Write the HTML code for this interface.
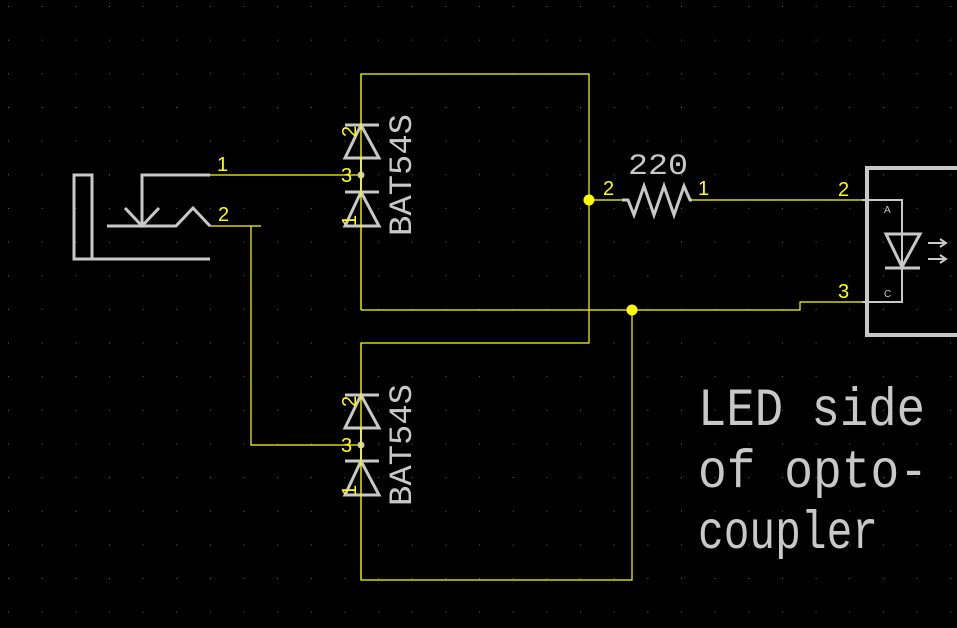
<!DOCTYPE html>
<html><head><meta charset="utf-8"><style>
html,body{margin:0;padding:0;background:#000;}
svg{display:block;}
</style></head><body>
<svg width="957" height="628" viewBox="0 0 957 628" xmlns="http://www.w3.org/2000/svg">
<defs>
<pattern id="g" x="8" y="6" width="33.65" height="33.65" patternUnits="userSpaceOnUse">
<rect x="0" y="0" width="1" height="1" fill="#666"/>
</pattern>
</defs>
<rect width="957" height="628" fill="#000"/>
<rect width="957" height="628" fill="url(#g)"/>

<g stroke="#ffff00" stroke-width="1.2" fill="none">
<polyline points="210,175 361,175"/>
<polyline points="210,226 261,226"/>
<polyline points="251,226 251,445 361,445"/>
<polyline points="361,310 361,74 589,74 589,343 361,343 361,580 632,580 632,310"/>
<polyline points="361,310 800,310 800,302 862,302"/>
<polyline points="589,200 622,200"/>
<polyline points="692,200 862,200"/>
</g>
<circle cx="589" cy="200" r="5.5" fill="#ffff00"/>
<circle cx="632" cy="310" r="5.5" fill="#ffff00"/>

<g stroke="#c8c8c8" stroke-width="3" fill="none" stroke-linejoin="miter">
<polyline points="92,259 92,175 74,175 74,259 210,259"/>
<polyline points="210,175 142,175 142,226"/>
<polyline points="125,208 142,226 159,208"/>
<polyline points="107,226 176,226 193,208 210,226"/>
</g>

<g stroke="#c8c8c8" stroke-width="3" fill="none">
<line x1="345" y1="125" x2="379" y2="125"/>
<polygon points="345,158 379,158 361,125"/>
<line x1="345" y1="192" x2="379" y2="192"/>
<polygon points="345,226 379,226 361,192"/>
<line x1="345" y1="395" x2="379" y2="395"/>
<polygon points="345,428 379,428 361,395"/>
<line x1="345" y1="461" x2="379" y2="461"/>
<polygon points="345,495 379,495 361,461"/>
</g>
<line x1="361" y1="158" x2="361" y2="192" stroke="#c8c8c8" stroke-width="2"/>
<line x1="361" y1="428" x2="361" y2="461" stroke="#c8c8c8" stroke-width="2"/>
<circle cx="361" cy="175" r="3.5" fill="#c8c8c8"/>
<circle cx="361" cy="445" r="3.5" fill="#c8c8c8"/>
<g stroke="#ffff00" stroke-width="1.2">
<line x1="361" y1="74" x2="361" y2="310"/>
<line x1="361" y1="343" x2="361" y2="580"/>
</g>

<g font-family="Liberation Mono, monospace" fill="#c8c8c8" font-size="32">
<text transform="translate(411,236) rotate(-90)" textLength="122" lengthAdjust="spacingAndGlyphs">BAT54S</text>
<text transform="translate(411,506) rotate(-90)" textLength="122" lengthAdjust="spacingAndGlyphs">BAT54S</text>
</g>

<g font-family="Liberation Sans, sans-serif" fill="#ffff00" font-size="20">
<text x="217" y="171">1</text>
<text x="218" y="221">2</text>
<text x="603" y="195">2</text>
<text x="698" y="195">1</text>
<text x="838" y="196">2</text>
<text x="838" y="298">3</text>
<text x="341" y="182">3</text>
<text x="341" y="452">3</text>
<text transform="translate(356,137) rotate(-90)">2</text>
<text transform="translate(356,226) rotate(-90)">1</text>
<text transform="translate(356,407) rotate(-90)">2</text>
<text transform="translate(356,496) rotate(-90)">1</text>
</g>

<polyline points="622,200 628,200 634,215 644,186 654,215 664,186 674,215 684,186 690,200 692,200" stroke="#c8c8c8" stroke-width="3" fill="none"/>
<text x="628" y="174" font-family="Liberation Mono, monospace" font-size="30" fill="#c8c8c8" textLength="60" lengthAdjust="spacingAndGlyphs">220</text>

<polyline points="957,168 867,168 867,335 957,335" stroke="#c8c8c8" stroke-width="4" fill="none"/>
<g stroke="#c8c8c8" stroke-width="2" fill="none">
<polyline points="862,200 902,200 902,302 862,302"/>
</g>
<g stroke="#c8c8c8" stroke-width="3" fill="none">
<polygon points="886,234 920,234 902,267"/>
<line x1="885" y1="268" x2="920" y2="268"/>
</g>
<g stroke="#c8c8c8" stroke-width="2" fill="none">
<line x1="928" y1="243" x2="946" y2="243"/><polyline points="940,239 946,243 940,247"/>
<line x1="928" y1="259" x2="946" y2="259"/><polyline points="940,255 946,259 940,263"/>
</g>
<g font-family="Liberation Sans, sans-serif" font-size="10" fill="#c8c8c8">
<text x="884" y="213">A</text>
<text x="884" y="297">C</text>
</g>

<g font-family="Liberation Mono, monospace" font-size="54" fill="#c8c8c8">
<text x="698" y="425" textLength="227" lengthAdjust="spacingAndGlyphs">LED side</text>
<text x="698" y="487" textLength="230" lengthAdjust="spacingAndGlyphs">of opto-</text>
<text x="698" y="548" textLength="180" lengthAdjust="spacingAndGlyphs">coupler</text>
</g>
</svg>
</body></html>
